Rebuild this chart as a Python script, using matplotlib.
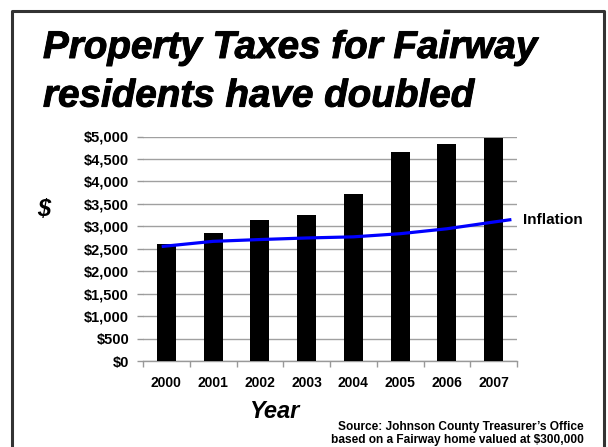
import numpy as np
import matplotlib
matplotlib.use('Agg')
import matplotlib.pyplot as plt
from matplotlib.lines import Line2D
import matplotlib.patheffects as pe

plt.rcParams['font.family'] = ['Liberation Sans', 'DejaVu Sans']

years = ['2000', '2001', '2002', '2003', '2004', '2005', '2006', '2007']
taxes = [2600, 2840, 3150, 3250, 3720, 4650, 4830, 4960]

# inflation curve, x in category units (0 = 2000)
infl_x = [-0.1, 1, 2, 3, 4, 5, 6, 7, 7.38]
infl_y = [2550, 2665, 2705, 2740, 2765, 2835, 2945, 3095, 3150]

yticks = list(range(0, 5001, 500))
ylabels = ['${:,}'.format(v) for v in yticks]

W, H = 608, 447
fig = plt.figure(figsize=(W / 100, H / 100), dpi=100)
fig.patch.set_facecolor('white')

ax = fig.add_axes([143 / W, 1 - 361 / H, (517 - 143) / W, (361 - 136.5) / H])
x = np.arange(len(years))
ax.bar(x, taxes, width=0.41, color='black', zorder=3)
ax.plot(infl_x, infl_y, color='#0000ff', lw=2.3, zorder=4, solid_capstyle='butt')

ax.set_xlim(-0.5, 7.5)
ax.set_ylim(0, 5000)
ax.set_yticks(yticks)
ax.set_yticklabels(ylabels, fontsize=10.5, fontweight='bold')
ax.set_xticks(x)
ax.set_xticklabels(years, fontsize=10, fontweight='bold')
ax.set_xticks(np.arange(-0.5, 8, 1), minor=True)
ax.tick_params(axis='x', which='major', length=0, pad=11)
ax.tick_params(axis='x', which='minor', length=4, color='#999999', width=1)
ax.tick_params(axis='y', length=4, color='#999999', width=1, pad=6)
ax.yaxis.grid(True, color='#a0a0a0', lw=1, zorder=0)
ax.set_axisbelow(True)
for s in ['left', 'top', 'right']:
    ax.spines[s].set_visible(False)
ax.spines['bottom'].set_color('#999999')
ax.spines['bottom'].set_linewidth(1)

ax.text(7.63, 3140, 'Inflation', fontsize=11, fontweight='bold', va='center', ha='left')

# title
heavy = [pe.withStroke(linewidth=0.7, foreground='black')]
fig.text(43 / W, 1 - 58 / H, 'Property Taxes for Fairway', fontsize=27.8,
         fontweight='bold', style='italic', va='baseline', ha='left', path_effects=heavy)
fig.text(43 / W, 1 - 106.6 / H, 'residents have doubled', fontsize=27.8,
         fontweight='bold', style='italic', va='baseline', ha='left', path_effects=heavy)

fig.text(44 / W, 1 - 210 / H, '$', fontsize=17, fontweight='bold', style='italic',
         ha='center', va='center')
fig.text(274.7 / W, 1 - 411.7 / H, 'Year', fontsize=17, fontweight='bold', style='italic',
         ha='center', va='center')
fig.text(584 / W, 1 - 426.7 / H, 'Source: Johnson County Treasurer\u2019s Office',
         fontsize=8.6, fontweight='bold', ha='right', va='center')
fig.text(584 / W, 1 - 440 / H, 'based on a Fairway home valued at $300,000',
         fontsize=8.6, fontweight='bold', ha='right', va='center')

# frame
bx0, bx1, by0 = 12 / W, 604 / W, 1 - 10.7 / H
fig.add_artist(Line2D([bx0, bx0, bx1, bx1], [-0.05, by0, by0, -0.05],
                      transform=fig.transFigure, color='#333333', lw=2.2))

fig.savefig('out.png', dpi=100)
